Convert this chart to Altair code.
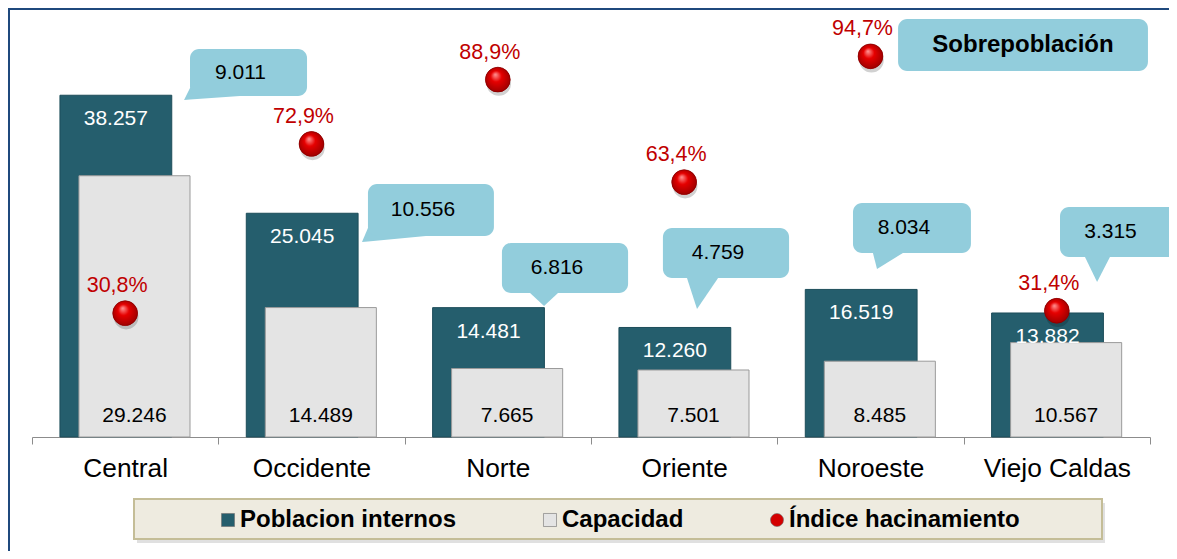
import altair as alt
import pandas as pd

# ---------------- data ----------------
regiones = ["Central", "Occidente", "Norte", "Oriente", "Noroeste", "Viejo Caldas"]
poblacion = [38257, 25045, 14481, 12260, 16519, 13882]
capacidad = [29246, 14489, 7665, 7501, 8485, 10567]
indice = [30.8, 72.9, 88.9, 63.4, 94.7, 31.4]
sobrepoblacion = [9011, 10556, 6816, 4759, 8034, 3315]
series = ["Poblacion internos", "Capacidad", "Índice hacinamiento"]

# ------------- annotation layout (band units / data units) -------------
call_x0 = [0.848, 1.803, 2.522, 3.386, 4.406, 5.517]
call_x1 = [1.476, 2.479, 3.199, 4.063, 5.039, 6.145]
call_ytop = [43430, 28320, 21720, 23400, 26190, 25750]
call_ybot = [38170, 22500, 16120, 17800, 20600, 20150]
tip_x = [0.816, 1.771, 2.748, 3.569, 4.535, 5.716]
tip_y = [37724, 21828, 14664, 14328, 18806, 17351]
base_x0 = [0.848, 1.803, 2.673, 3.515, 4.513, 5.651]
base_x1 = [1.116, 2.114, 2.823, 3.682, 4.674, 5.785]
title_box = [4.648, 5.989, 46790, 40970]

YMAX = 45000
W, H = 1118, 402
FONT = "Liberation Sans"


def miles(v):
    return f"{v:,}".replace(",", ".")


def pct(v):
    return f"{v:.1f}%".replace(".", ",")


n = len(regiones)
df = pd.DataFrame({
    "region": regiones,
    "i": list(range(n)),
    "pob": poblacion,
    "cap": capacidad,
    "ind": indice,
    "pob_t": [miles(v) for v in poblacion],
    "cap_t": [miles(v) for v in capacidad],
    "ind_t": [pct(v) for v in indice],
})
df["zero"] = 0
df["xd0"] = df["i"] + 0.15
df["xd1"] = df["i"] + 0.75
df["xdc"] = df["i"] + 0.45
df["xl0"] = df["i"] + 0.252
df["xl1"] = df["i"] + 0.848
df["xlc"] = df["i"] + 0.55
df["xc"] = df["i"] + 0.5
df["s_pob"] = series[0]
df["s_cap"] = series[1]
df["s_ind"] = series[2]

calls = pd.DataFrame({
    "x0": call_x0, "x1": call_x1, "yt": call_ytop, "yb": call_ybot,
    "txt": [miles(v) for v in sobrepoblacion],
})
calls["xc"] = (calls["x0"] + calls["x1"]) / 2
calls["yc"] = (calls["yt"] + calls["yb"]) / 2

ov = 900
tail_rows = []
for k in range(n):
    yb = call_ybot[k]
    if tip_x[k] < call_x0[k]:
        interp = tip_y[k] + (yb - tip_y[k]) * (call_x0[k] - tip_x[k]) / (base_x1[k] - tip_x[k])
        tail_rows += [
            {"id": k, "x": tip_x[k], "top": tip_y[k], "bot": tip_y[k]},
            {"id": k, "x": call_x0[k], "top": yb + ov, "bot": interp},
            {"id": k, "x": base_x1[k], "top": yb + ov, "bot": yb},
        ]
    else:
        tail_rows += [
            {"id": k, "x": base_x0[k], "top": yb + ov, "bot": yb},
            {"id": k, "x": tip_x[k], "top": yb + ov, "bot": tip_y[k]},
            {"id": k, "x": base_x1[k], "top": yb + ov, "bot": yb},
        ]
tails = pd.DataFrame(tail_rows)

title_df = pd.DataFrame({"x0": [title_box[0]], "x1": [title_box[1]],
                         "yt": [title_box[2]], "yb": [title_box[3]],
                         "xc": [(title_box[0] + title_box[1]) / 2],
                         "yc": [(title_box[2] + title_box[3]) / 2],
                         "t": ["Sobrepoblación"]})
one = pd.DataFrame({"a": [0]})

# ---------------- scales ----------------
label_expr = "[" + ",".join(f"'{r}'" for r in regiones) + "][datum.value] || ''"
xscale = alt.Scale(domain=[0, n], nice=False, zero=False)
xaxis = alt.Axis(values=list(range(n + 1)), labelExpr=label_expr, labelOffset=W / n / 2,
                 labelFontSize=26.3, labelFont=FONT, labelColor="#000000", labelPadding=11,
                 labelOverlap=False, labelFlush=False, labelBound=False,
                 domainColor="#8C8C8C", tickColor="#8C8C8C", tickSize=7,
                 grid=False, title=None)
yscale = alt.Scale(domain=[0, YMAX], nice=False, zero=True)
iscale = alt.Scale(domain=[0, 100], nice=False, zero=True)

color_scale = alt.Scale(domain=series, range=["#255E6D", "#E4E4E4", "#D40000"])
shape_scale = alt.Scale(domain=series, range=["square", "square", "circle"])
legend = alt.Legend(orient="none", legendX=184, legendY=473, direction="horizontal",
                    title=None, labelFont=FONT, labelFontSize=24, labelFontWeight="bold",
                    labelColor="#000000", labelLimit=0, symbolSize=170, columnPadding=81,
                    labelOffset=0, padding=0, symbolStrokeColor="#6E6E6E",
                    symbolStrokeWidth=0.6)

# ---------------- layers ----------------
frame_top = alt.Chart(one).mark_rule(color="#1F497D", strokeWidth=2).encode(
    x=alt.value(-23), x2=alt.value(W + 23), y=alt.value(-26))
frame_left = alt.Chart(one).mark_rule(color="#1F497D", strokeWidth=2).encode(
    x=alt.value(-23), y=alt.value(-27), y2=alt.value(H + 114))

leg_shadow = alt.Chart(one).mark_rect(fill="#000000", opacity=0.12).encode(
    x=alt.value(105), x2=alt.value(1073), y=alt.value(468), y2=alt.value(508))
leg_box = alt.Chart(one).mark_rect(fill="#EEEBE0", stroke="#C4BD97", strokeWidth=2).encode(
    x=alt.value(102), x2=alt.value(1070), y=alt.value(464), y2=alt.value(504))

base = alt.Chart(df)

dark = base.mark_rect(stroke="#1D4D5A", strokeWidth=1).encode(
    x=alt.X("xd0:Q", scale=xscale, axis=xaxis),
    x2="xd1:Q",
    y=alt.Y("pob:Q", scale=yscale, axis=None),
    y2="zero:Q",
    color=alt.Color("s_pob:N", scale=color_scale, legend=legend),
)
light = base.mark_rect(stroke="#9A9A9A", strokeWidth=1).encode(
    x=alt.X("xl0:Q", scale=xscale),
    x2="xl1:Q",
    y=alt.Y("cap:Q", scale=yscale, axis=None),
    y2="zero:Q",
    color=alt.Color("s_cap:N", scale=color_scale, legend=legend),
)
dark_txt = base.mark_text(color="#FFFFFF", font=FONT, fontSize=21, baseline="middle",
                          dy=24).encode(
    x=alt.X("xdc:Q", scale=xscale),
    y=alt.Y("pob:Q", scale=yscale, axis=None),
    text="pob_t:N",
)
light_txt = base.mark_text(color="#000000", font=FONT, fontSize=21, baseline="middle",
                           dy=-21).encode(
    x=alt.X("xlc:Q", scale=xscale),
    y=alt.Y("zero:Q", scale=yscale, axis=None),
    text="cap_t:N",
)

tail = alt.Chart(tails).mark_area(color="#92CDDC", orient="vertical").encode(
    x=alt.X("x:Q", scale=xscale),
    y=alt.Y("top:Q", scale=yscale, axis=None),
    y2="bot:Q",
    detail="id:N",
)
box = alt.Chart(calls).mark_rect(color="#92CDDC", cornerRadius=9).encode(
    x=alt.X("x0:Q", scale=xscale), x2="x1:Q",
    y=alt.Y("yt:Q", scale=yscale, axis=None), y2="yb:Q",
)
box_txt = alt.Chart(calls).mark_text(color="#000000", font=FONT, fontSize=21,
                                     baseline="middle", dx=-8).encode(
    x=alt.X("xc:Q", scale=xscale),
    y=alt.Y("yc:Q", scale=yscale, axis=None),
    text="txt:N",
)
tbox = alt.Chart(title_df).mark_rect(color="#92CDDC", cornerRadius=9).encode(
    x=alt.X("x0:Q", scale=xscale), x2="x1:Q",
    y=alt.Y("yt:Q", scale=yscale, axis=None), y2="yb:Q",
)
ttxt = alt.Chart(title_df).mark_text(color="#000000", font=FONT, fontSize=24,
                                     fontWeight="bold", baseline="middle").encode(
    x=alt.X("xc:Q", scale=xscale),
    y=alt.Y("yc:Q", scale=yscale, axis=None),
    text="t:N",
)

dot_shadow = base.mark_point(filled=True, color="#000000", opacity=0.18, size=600,
                             yOffset=4, xOffset=1).encode(
    x=alt.X("xc:Q", scale=xscale),
    y=alt.Y("ind:Q", scale=iscale, axis=None),
)
dots = base.mark_point(filled=True, opacity=1, size=616).encode(
    x=alt.X("xc:Q", scale=xscale),
    y=alt.Y("ind:Q", scale=iscale, axis=None),
    color=alt.Color("s_ind:N", scale=color_scale, legend=legend),
    shape=alt.Shape("s_ind:N", scale=shape_scale, legend=legend),
)
dot_grad = base.mark_point(
    filled=True, size=616, opacity=1, stroke="#7A0000", strokeWidth=0.6,
    fill={"gradient": "radial", "x1": 0.4, "y1": 0.3, "r1": 0.02,
          "x2": 0.5, "y2": 0.5, "r2": 0.6,
          "stops": [{"offset": 0, "color": "#FF8A8A"},
                    {"offset": 0.35, "color": "#E60000"},
                    {"offset": 1, "color": "#8E0000"}]},
).encode(
    x=alt.X("xc:Q", scale=xscale),
    y=alt.Y("ind:Q", scale=iscale, axis=None),
)
dot_txt = base.mark_text(color="#C00000", font=FONT, fontSize=21.5, baseline="alphabetic",
                         dx=-8, dy=-21).encode(
    x=alt.X("xc:Q", scale=xscale),
    y=alt.Y("ind:Q", scale=iscale, axis=None),
    text="ind_t:N",
)

chart = alt.layer(
    leg_shadow, leg_box,
    dark, light, light_txt, dark_txt,
    tail, box, box_txt, tbox, ttxt,
    dot_shadow, dots, dot_grad, dot_txt,
    frame_top, frame_left,
).resolve_scale(y="independent").properties(
    width=W, height=H,
    padding={"left": 24, "top": 27, "right": 19, "bottom": 114},
    autosize=alt.AutoSizeParams(type="none"),
    background="#FFFFFF",
).configure_view(stroke=None)

chart.save("out.html", embed_options={"renderer": "svg", "actions": False})
